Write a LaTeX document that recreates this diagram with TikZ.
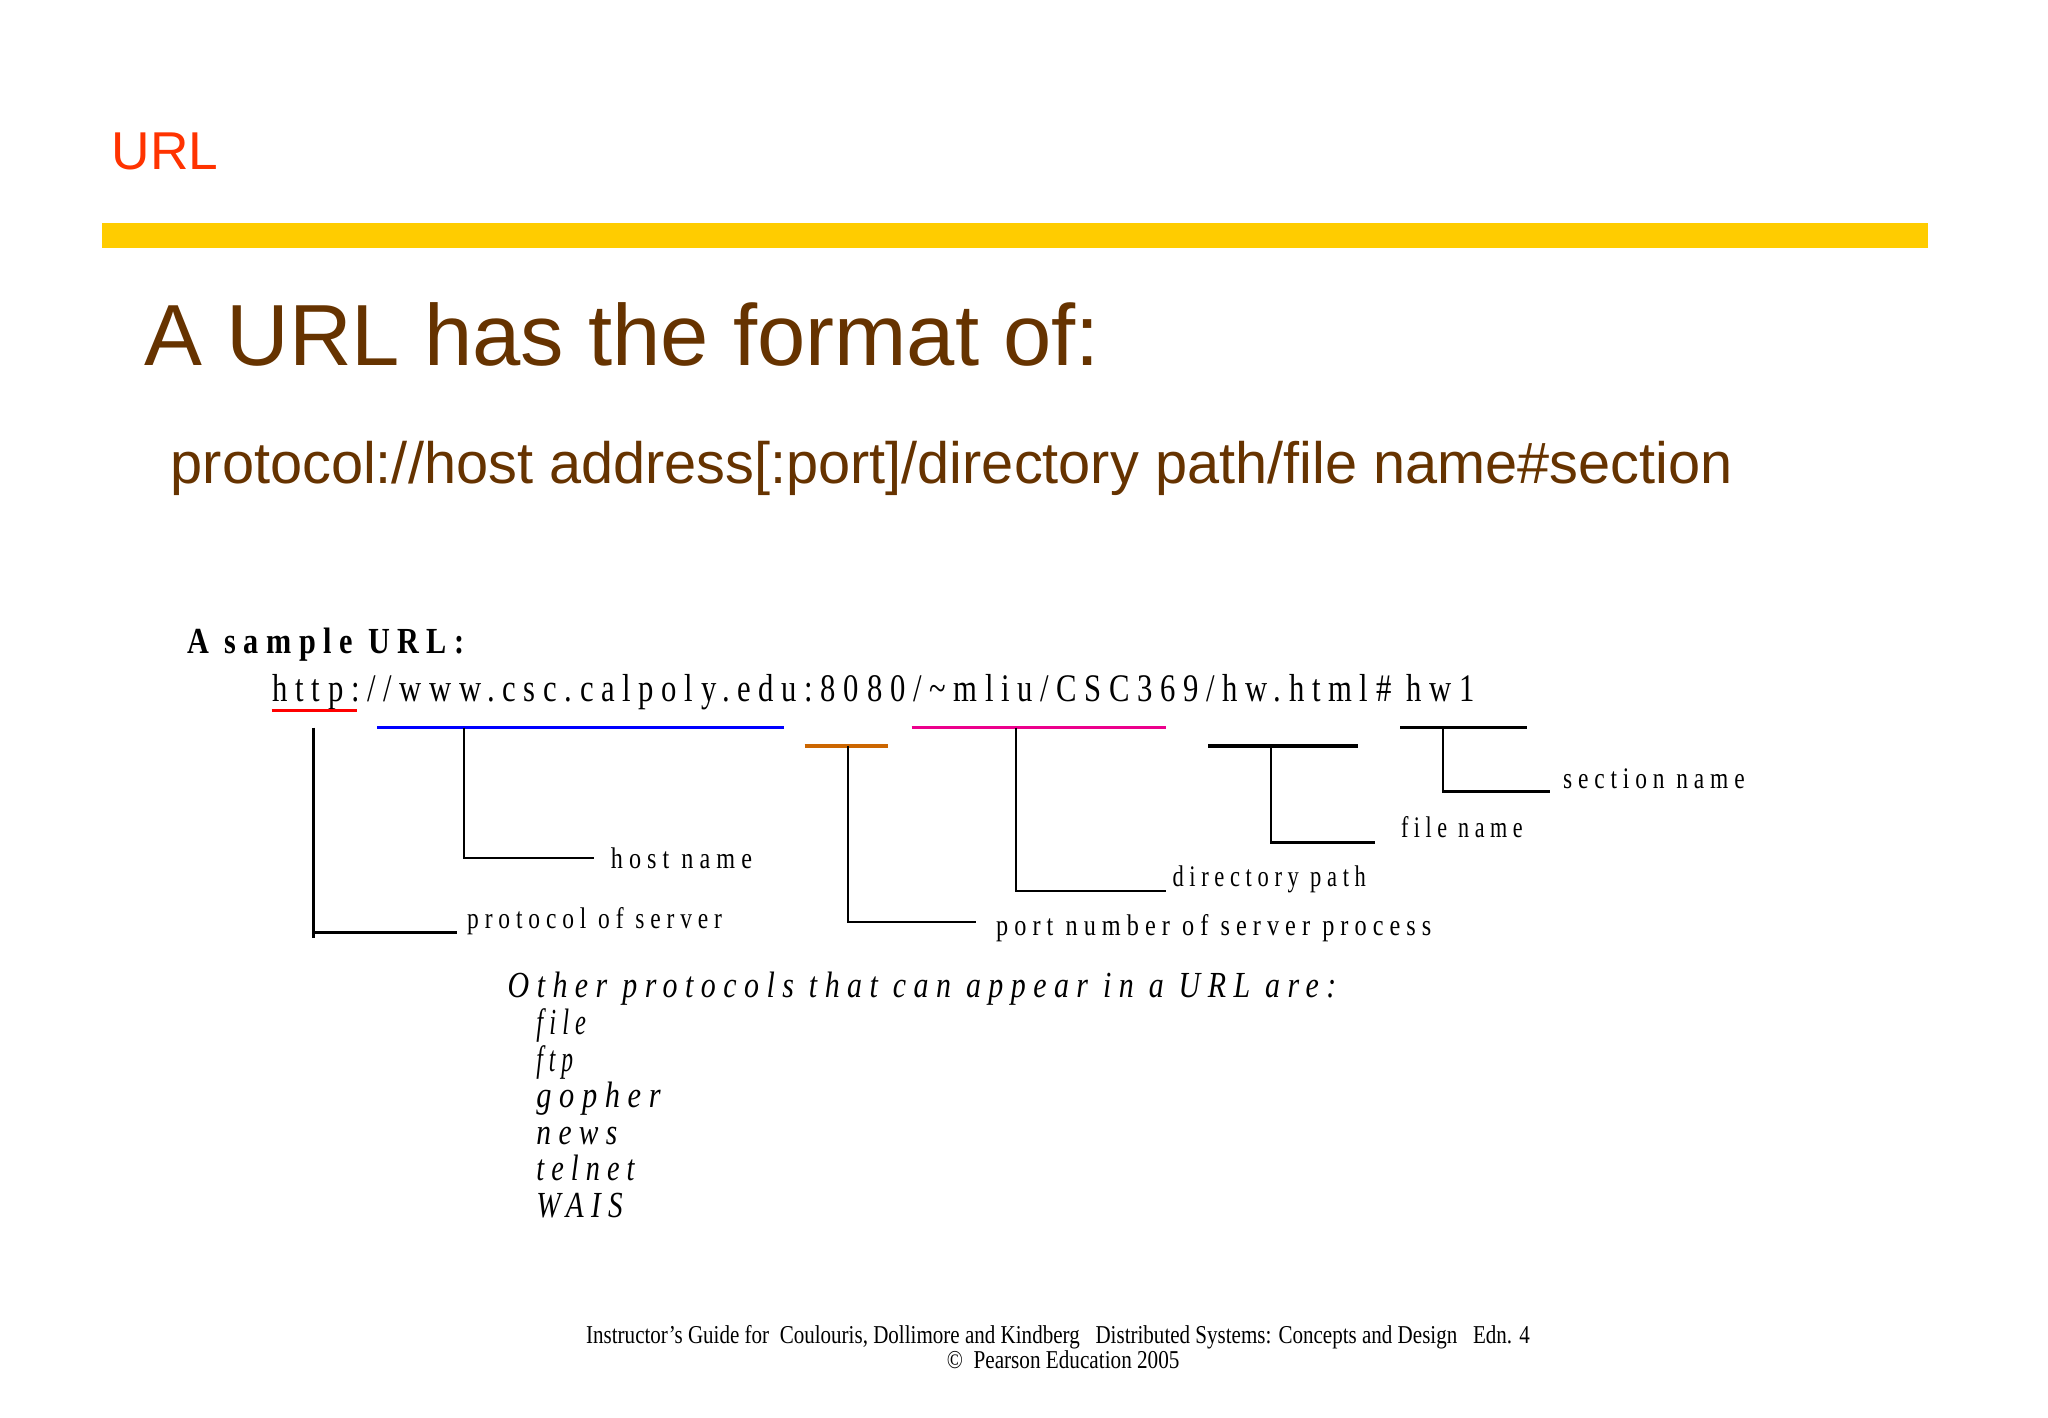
\documentclass[tikz,border=0pt]{standalone}
\usepackage{fontspec}
\usepackage{graphicx}
\setmainfont{Liberation Serif}
\newfontfamily\hv{Liberation Sans}
\newfontfamily\cond[LetterSpace=25]{Liberation Serif}
\newcommand{\fitw}[2]{\resizebox{#1}{\height}{#2}}
\definecolor{brn}{HTML}{663300}
\definecolor{ylw}{HTML}{FFCC00}
\definecolor{urlred}{HTML}{FF3300}
\begin{document}
\begin{tikzpicture}[x=0.01cm,y=-0.01cm,
  txt/.style={anchor=base west,inner sep=0pt},
  conn/.style={draw=black,line width=0.5pt}]
\useasboundingbox[fill=white] (0,0) rectangle (1568,1085.6);
\node[txt,text=urlred,font=\hv\fontsize{11.6}{14}\selectfont] (t0) at (85,130) {URL};
\fill[ylw] (78,171) rectangle (1476,190);
\node[txt,text=brn,font=\hv\fontsize{18.9}{22}\selectfont] (t1) at (110,280) {A URL has the format of:};
\node[txt,text=brn,font=\hv\fontsize{12.7}{15}\selectfont] (t2) at (130,370) {\fitw{11.95cm}{protocol://host address[:port]/directory path/file name\#section}};
\node[txt,font=\cond\bfseries\fontsize{8}{10}\selectfont] (s0) at (143,500) {\fitw{2.12cm}{A sample URL:}};
\node[txt,font=\cond\fontsize{8.5}{10}\selectfont] (u) at (208,537) {\fitw{9.2cm}{http://www.csc.calpoly.edu:8080/\textasciitilde mliu/CSC369/hw.html\# hw1}};
\draw[red,line width=0.8pt] (208,544) -- (273,544);
\draw[blue,line width=0.8pt] (289,557) -- (600,557);
\draw[orange!80!black,line width=0.8pt] (616,571) -- (680,571);
\draw[magenta,line width=0.8pt] (698,557) -- (893,557);
\draw[line width=0.8pt] (925,571) -- (1040,571);
\draw[line width=0.8pt] (1072,557) -- (1169,557);
\tikzset{lab/.style={txt,font=\cond\fontsize{6.5}{8}\selectfont}}
\node[lab] (l1) at (357,711) {\fitw{1.95cm}{protocol of server}};
\node[lab] (l2) at (467,665) {\fitw{1.08cm}{host name}};
\node[lab] (l3) at (762,716) {\fitw{3.33cm}{port number of server process}};
\node[lab] (l4) at (897,679) {\fitw{1.48cm}{directory path}};
\node[lab] (l5) at (1072,641) {\fitw{0.93cm}{file name}};
\node[lab] (l6) at (1196,604) {\fitw{1.39cm}{section name}};
\coordinate (c1) at (350,714);
\draw[conn] (240,557) -- (240,718) (240,714) -- (c1);
\draw[conn] (355,557) |- (455,657);
\draw[conn] (649,571) |- (747,706);
\draw[conn] (778,557) |- (893,682);
\draw[conn] (973,571) |- (1053,645);
\draw[conn] (1105,557) |- (1187,606);
\tikzset{it/.style={txt,font=\cond\itshape\fontsize{8}{10}\selectfont}}
\node[it] (o0) at (388,764) {\fitw{6.34cm}{Other protocols that can appear in a URL are:}};
\node[it] (o1) at (410,792) {\fitw{0.38cm}{file}};
\node[it] (o2) at (410,820) {\fitw{0.28cm}{ftp}};
\node[it] (o3) at (410,848) {\fitw{0.95cm}{gopher}};
\node[it] (o4) at (410,876) {\fitw{0.62cm}{news}};
\node[it] (o5) at (410,904) {\fitw{0.75cm}{telnet}};
\node[it] (o6) at (410,932) {\fitw{0.66cm}{WAIS}};
\node[anchor=base,inner sep=0pt,font=\fontsize{5.6}{7}\selectfont] (f1) at (810,1029) {\fitw{7.22cm}{Instructor’s Guide for\ \ Coulouris, Dollimore and Kindberg\ \ \ Distributed Systems: Concepts and Design\ \ \ Edn. 4}};
\node[anchor=base,inner sep=0pt,font=\fontsize{5.6}{7}\selectfont] (f2) at (814,1048) {\fitw{1.78cm}{©\ \ Pearson Education 2005}};
\end{tikzpicture}
\end{document}
